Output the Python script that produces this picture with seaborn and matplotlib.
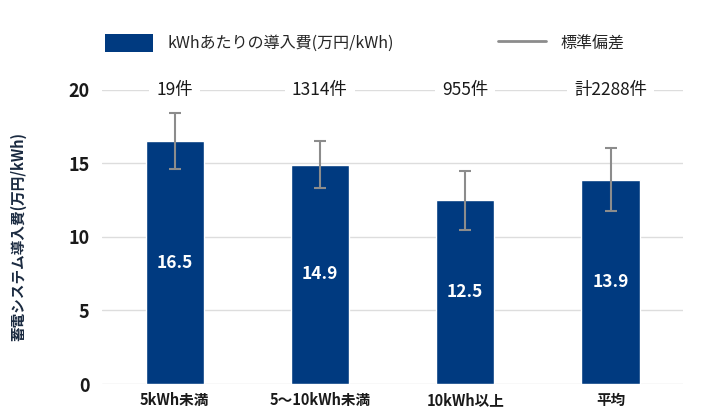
import matplotlib
matplotlib.use("Agg")
import matplotlib.pyplot as plt
import seaborn as sns
import pandas as pd
from matplotlib.patches import Patch
from matplotlib.lines import Line2D

categories = ["5kWh未満", "5～10kWh未満", "10kWh以上", "平均"]
values = [16.5, 14.9, 12.5, 13.9]
std_devs = [1.9, 1.6, 2.0, 2.15]
counts = ["19件", "1314件", "955件", "計2288件"]
yticks = [0, 5, 10, 15, 20]

bar_color = "#003A80"
err_color = "#8C8C8C"

sns.set_theme(style="white")
plt.rcParams['font.family'] = ['Noto Sans CJK JP', 'DejaVu Sans']

df = pd.DataFrame({"cat": categories, "val": values})

fig = plt.figure(figsize=(7.08, 4.2), dpi=100)
ax = fig.add_axes([0.144, 0.0857, 0.821, 0.7003])

sns.barplot(data=df, x="cat", y="val", color=bar_color, width=0.4,
            saturation=1, ax=ax, zorder=2, errorbar=None)
ax.errorbar(range(len(categories)), values, yerr=std_devs, fmt="none",
            ecolor=err_color, elinewidth=1.5, capsize=4, capthick=1.5, zorder=3)

ax.set_ylim(0, 20)
ax.set_xlim(-0.5, len(categories) - 0.5)
ax.set_yticks(yticks)
ax.set_yticklabels([str(t) for t in yticks], fontsize=13, fontweight="bold",
                   color="#1a1a1a")
ax.grid(axis="y", color="#DDDDDD", linewidth=1, zorder=0)
ax.set_axisbelow(True)
for s in ax.spines.values():
    s.set_visible(False)
ax.tick_params(axis="y", length=0, pad=9)
ax.tick_params(axis="x", length=0, pad=6)
ax.set_xticklabels(categories, fontsize=10.5, fontweight="bold", color="#1a1a1a")
ax.set_xlabel("")
ax.set_ylabel("蓄電システム導入費(万円/kWh)", fontsize=10.5, fontweight="bold",
              color="#1a2a40", labelpad=30)

for i, (v, c) in enumerate(zip(values, counts)):
    ax.text(i, v / 2, f"{v:.1f}", ha="center", va="center", color="white",
            fontsize=12.5, fontweight="bold", zorder=4)
    ax.text(i, 20, c, ha="center", va="center", color="#1a1a1a", fontsize=12.5,
            bbox=dict(facecolor="white", edgecolor="none", pad=5), zorder=4)

leg_kw = dict(loc="center left", frameon=False, fontsize=11.5,
              handlelength=3.0, handleheight=1.44, handletextpad=0.9,
              borderaxespad=0, borderpad=0)
fig.legend([Patch(facecolor=bar_color, edgecolor="none")],
           ["kWhあたりの導入費(万円/kWh)"],
           bbox_to_anchor=(105 / 708, 1 - 43 / 420), **leg_kw)
fig.legend([Line2D([0], [0], color=err_color, linewidth=2)], ["標準偏差"],
           bbox_to_anchor=(498 / 708, 1 - 43 / 420), **leg_kw)

fig.savefig("out.png", dpi=100)
